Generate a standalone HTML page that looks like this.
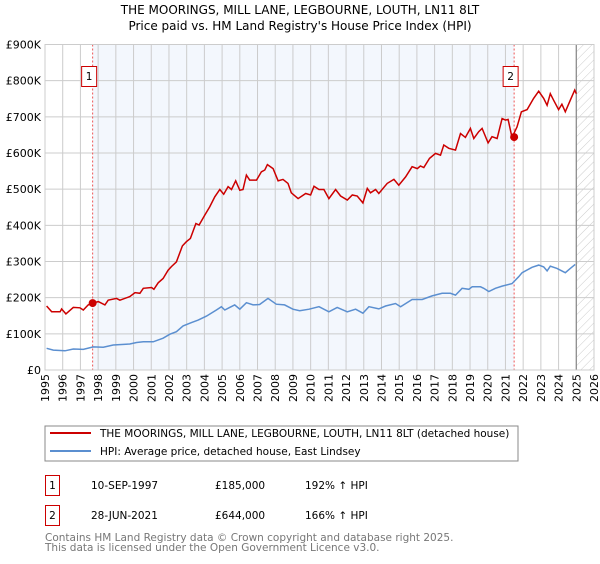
<!DOCTYPE html>
<html><head><meta charset="utf-8"><style>
body{margin:0;background:#fff;font-family:"DejaVu Sans","Liberation Sans",sans-serif;}
svg text{font-family:"DejaVu Sans","Liberation Sans",sans-serif;}
</style></head><body>
<svg id="chart" width="600" height="560" xmlns="http://www.w3.org/2000/svg">
<defs><pattern id="hatch" width="6" height="6" patternUnits="userSpaceOnUse" patternTransform="rotate(45)"><line x1="0" y1="0" x2="0" y2="6" stroke="#ccc" stroke-width="1"/></pattern></defs>
<text x="300" y="14" text-anchor="middle" font-size="12">THE MOORINGS, MILL LANE, LEGBOURNE, LOUTH, LN11 8LT</text>
<text x="300" y="30" text-anchor="middle" font-size="12">Price paid vs. HM Land Registry's House Price Index (HPI)</text>
<g id="plot"></g>
<rect x="45" y="426" width="473" height="35" fill="#fff" stroke="#888"/>
<line x1="50" y1="433" x2="91" y2="433" stroke="#cc0000" stroke-width="2"/>
<text x="100" y="437" font-size="10.5">THE MOORINGS, MILL LANE, LEGBOURNE, LOUTH, LN11 8LT (detached house)</text>
<line x1="50" y1="451" x2="91" y2="451" stroke="#5b8fd0" stroke-width="2"/>
<text x="100" y="455" font-size="10.5">HPI: Average price, detached house, East Lindsey</text>
<g>
<rect x="45.5" y="475.5" width="14" height="20" fill="#fff" stroke="#cc0000"/>
<text x="52.5" y="489" font-size="10.5" text-anchor="middle">1</text>
<text x="91" y="489" font-size="10.5">10-SEP-1997</text>
<text x="215" y="489" font-size="10.5">£185,000</text>
<text x="305" y="489" font-size="10.5">192% ↑ HPI</text></g>
<g>
<rect x="45.5" y="505.5" width="14" height="20" fill="#fff" stroke="#cc0000"/>
<text x="52.5" y="519" font-size="10.5" text-anchor="middle">2</text>
<text x="91" y="519" font-size="10.5">28-JUN-2021</text>
<text x="215" y="519" font-size="10.5">£644,000</text>
<text x="305" y="519" font-size="10.5">166% ↑ HPI</text></g>
<text x="45" y="541" font-size="10.5" fill="#777">Contains HM Land Registry data © Crown copyright and database right 2025.</text>
<text x="45" y="551" font-size="10.5" fill="#777">This data is licensed under the Open Government Licence v3.0.</text>
</svg>
<script>
const yTicks=[0,100,200,300,400,500,600,700,800,900];
const yTickLabels=["£0","£100K","£200K","£300K","£400K","£500K","£600K","£700K","£800K","£900K"];
const xYears=[1995,1996,1997,1998,1999,2000,2001,2002,2003,2004,2005,2006,2007,2008,2009,2010,2011,2012,2013,2014,2015,2016,2017,2018,2019,2020,2021,2022,2023,2024,2025,2026];
const saleYears=[1997.69,2021.49];
const saleValues=[185,644];
const saleLabels=["1","2"];
const redT=[.09,.38,.85,.94,1.18,1.6,1.97,2.16,2.44,2.69,3.01,3.38,3.57,4.04,4.23,4.79,5.08,5.36,5.55,6.02,6.15,6.39,6.67,6.95,7.14,7.42,7.76,7.99,8.21,8.52,8.7,9.02,9.3,9.59,9.87,10.09,10.34,10.53,10.77,11,11.18,11.37,11.56,11.94,12.22,12.41,12.56,12.88,13.16,13.44,13.72,13.91,14.29,14.72,15,15.19,15.47,15.75,16.03,16.41,16.69,17.07,17.35,17.63,17.95,18.2,18.38,18.67,18.85,19.32,19.7,19.98,20.36,20.73,21.02,21.2,21.39,21.71,22.05,22.33,22.52,22.8,23.18,23.46,23.74,24.02,24.21,24.49,24.68,25.02,25.24,25.53,25.81,26,26.15,26.37,26.65,26.9,27.22,27.59,27.88,28.16,28.35,28.53,28.72,29,29.19,29.38,29.66,29.91,30];
const redV=[177,161,161,169,155,173,172,166,180,185,189,180,193,198,193,203,214,212,226,228,223,241,253,276,286,299,343,355,364,405,401,428,451,479,499,486,507,499,523,497,499,539,525,525,548,553,568,557,523,527,516,490,474,488,484,508,499,499,474,499,481,470,484,481,462,502,490,499,488,516,527,511,534,562,557,564,560,585,599,594,622,613,608,654,643,668,640,659,668,628,645,640,695,691,693,643,672,714,720,751,771,751,732,764,746,720,735,714,746,774,764];
const blueT=[.09,.47,1.13,1.6,2.16,2.73,3.29,3.85,4.79,5.17,5.55,6.11,6.67,7.05,7.42,7.8,8.27,8.65,9.12,9.68,9.96,10.15,10.43,10.71,11,11.37,11.75,12.12,12.59,13.06,13.53,14,14.38,14.91,15.47,16.03,16.5,17.07,17.54,17.95,18.29,18.85,19.23,19.79,20.08,20.73,21.3,21.86,22.42,22.89,23.18,23.55,23.93,24.12,24.59,24.77,25.06,25.43,25.81,26.37,26.75,26.94,27.5,27.88,28.16,28.35,28.53,28.91,29.38,29.66,29.94];
const blueV=[60,55,53,58,57,64,63,69,72,76,78,78,88,99,106,122,131,138,149,166,175,166,173,180,168,186,180,181,198,182,180,168,164,168,175,161,173,161,168,157,175,169,177,184,175,195,195,205,212,212,207,226,223,230,230,226,217,226,232,239,258,269,284,290,285,274,287,281,269,281,292];
const X0=45,X1=594,Y0=370,Y1=44.5,T0=1995,T1=2026;
const xs=t=>X0+(t-T0)/(T1-T0)*(X1-X0);
const ys=v=>Y0-v/900*(Y0-Y1);
const NS="http://www.w3.org/2000/svg";
const g=document.getElementById('plot');
function mk(tag,attrs,parent){const e=document.createElementNS(NS,tag);for(const k in attrs)e.setAttribute(k,attrs[k]);(parent||g).appendChild(e);return e;}
let e;
e=mk('rect',{x:xs(saleYears[0]),y:Y1,width:xs(saleYears[1])-xs(saleYears[0]),height:Y0-Y1,fill:'#eef3fc',opacity:0.7});


e=mk('rect',{x:xs(2025.0),y:Y1,width:X1-xs(2025.0),height:Y0-Y1,fill:'url(#hatch)'});


yTicks.forEach((v,i)=>{
 let l=mk('line',{x1:X0,x2:X1,y1:ys(v),y2:ys(v),stroke:'#ccc','stroke-width':1});
 
 
 let t=mk('text',{x:X0-4,y:ys(v)+4,'text-anchor':'end','font-size':11});
 
 
 t.textContent=yTickLabels[i];
});
xYears.forEach(yr=>{
 let l=mk('line',{x1:xs(yr),x2:xs(yr),y1:Y1,y2:Y0,stroke:'#ccc','stroke-width':1});
 
 
 let t=mk('text',{x:0,y:0,'text-anchor':'end','font-size':11,transform:`translate(${xs(yr)+4},374) rotate(-90)`});
 
 
 t.textContent=yr;
});
e=mk('line',{x1:xs(2025.0),x2:xs(2025.0),y1:Y1,y2:Y0,stroke:'#888','stroke-width':1.2});


saleYears.forEach((yr,i)=>{
 let l=mk('line',{x1:xs(yr),x2:xs(yr),y1:Y1,y2:Y0,stroke:'#e55','stroke-width':1,'stroke-dasharray':'2,2'});
 
 
});
const path=(T,V)=>T.map((t,i)=>(i?'L':'M')+xs(T0+t).toFixed(1)+','+ys(V[i]).toFixed(1)).join('');
e=mk('path',{d:path(blueT,blueV),fill:'none',stroke:'#5b8fd0','stroke-width':1.5});


e=mk('path',{d:path(redT,redV),fill:'none',stroke:'#cc0000','stroke-width':1.5});


saleYears.forEach((yr,i)=>{
 let c=mk('circle',{cx:xs(yr),cy:ys(saleValues[i]),r:4,fill:'#cc0000'});
 
 
 let b=mk('rect',{x:xs(yr)-11,y:66.5,width:15,height:20,fill:'#fff',stroke:'#cc0000'});
 
 
 let t=mk('text',{x:xs(yr)-3.5,y:80,'text-anchor':'middle','font-size':10.5});
 
 
 t.textContent=saleLabels[i];
});
e=mk('rect',{x:X0,y:Y1,width:X1-X0,height:Y0-Y1,fill:'none',stroke:'#ccc'});


</script>
</body></html>
